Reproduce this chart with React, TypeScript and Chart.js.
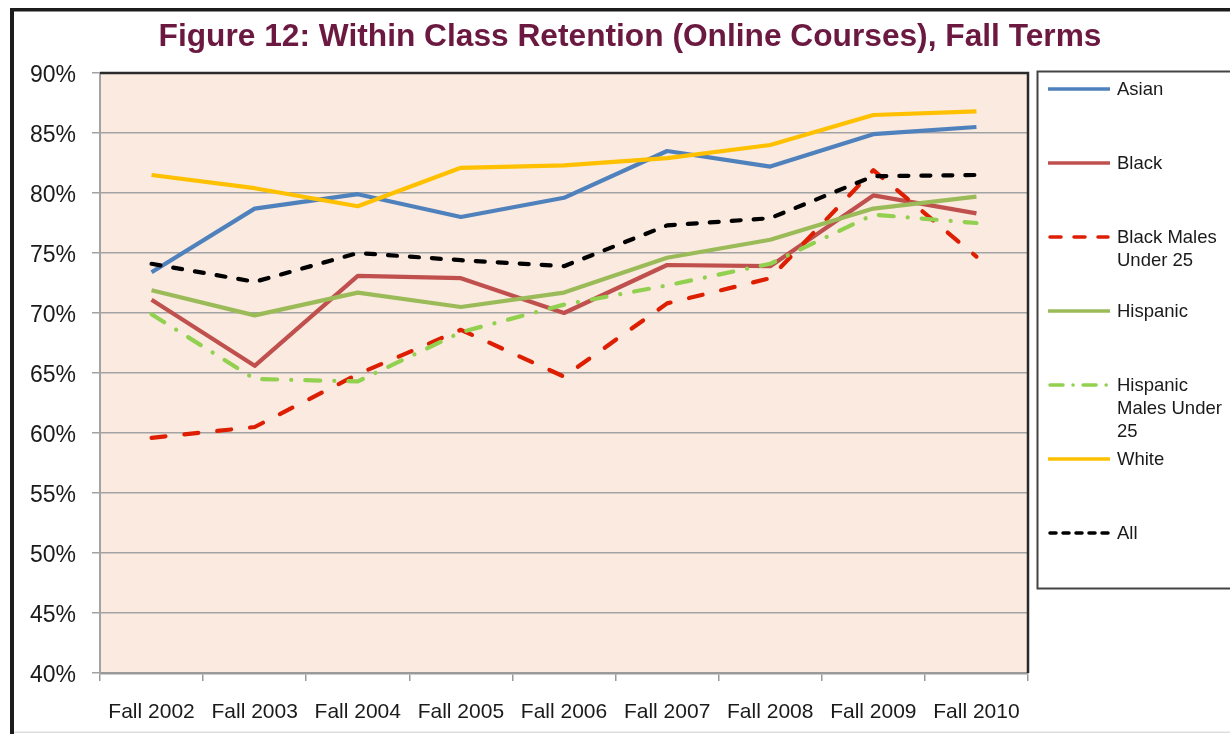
import React, { useEffect, useRef } from 'react';
import { Chart, registerables } from 'chart.js';

Chart.register(...registerables);

const titleText = 'Figure 12: Within Class Retention (Online Courses), Fall Terms';
const categories = ['Fall 2002', 'Fall 2003', 'Fall 2004', 'Fall 2005', 'Fall 2006', 'Fall 2007', 'Fall 2008', 'Fall 2009', 'Fall 2010'];
const asian = [73.4, 78.7, 79.9, 78.0, 79.6, 83.5, 82.2, 84.9, 85.5];
const black = [71.1, 65.6, 73.1, 72.9, 70.0, 74.0, 73.9, 79.8, 78.3];
const blackMalesUnder25 = [59.6, 60.5, 64.9, 68.6, 64.7, 70.8, 72.9, 81.9, 74.7];
const hispanic = [71.9, 69.8, 71.7, 70.5, 71.7, 74.6, 76.1, 78.7, 79.7];
const hispanicMalesUnder25 = [69.9, 64.5, 64.3, 68.4, 70.7, 72.3, 74.1, 78.2, 77.5];
const white = [81.5, 80.4, 78.9, 82.1, 82.3, 82.9, 84.0, 86.5, 86.8];
const all = [74.1, 72.6, 75.0, 74.4, 73.9, 77.3, 77.9, 81.4, 81.5];
const yMin = 40;
const yMax = 90;
const yStep = 5;

const seriesLabels = ['Asian', 'Black', 'Black Males Under 25', 'Hispanic', 'Hispanic Males Under 25', 'White', 'All'];
const legendLines = [['Asian'], ['Black'], ['Black Males', 'Under 25'], ['Hispanic'], ['Hispanic', 'Males Under', '25'], ['White'], ['All']];
const seriesValues = [asian, black, blackMalesUnder25, hispanic, hispanicMalesUnder25, white, all];
const seriesColors = ['#4F81BD', '#C0504D', '#DD1E00', '#9BBB59', '#92D050', '#FFC000', '#000000'];
const seriesDash: number[][] = [[], [], [14, 19], [], [15, 14, 0.1, 14], [], [9, 13]];
const legendDash: number[][] = [[], [], [11, 13], [], [13, 10, 0.1, 10], [], [6, 7]];

const FONT = '"Liberation Sans", Arial, Helvetica, sans-serif';

const decorPlugin = {
  id: 'decor',
  beforeDraw(chart: any) {
    const { ctx, chartArea: a, width, height } = chart;
    ctx.save();
    ctx.fillStyle = '#ffffff';
    ctx.fillRect(0, 0, width, height);
    // outer frame
    ctx.fillStyle = '#1c1c1c';
    ctx.fillRect(10, 8, 4, height - 8);
    ctx.fillRect(10, 8, width - 10, 3.5);
    ctx.fillStyle = '#dddddd';
    ctx.fillRect(14, 731.5, width - 14, 1.5);
    // plot background
    ctx.fillStyle = '#FBEADF';
    ctx.fillRect(a.left, a.top, a.right - a.left, a.bottom - a.top);
    ctx.restore();
  },
  afterDraw(chart: any) {
    const { ctx, chartArea: a } = chart;
    ctx.save();
    // dark top + right border of plot area
    ctx.strokeStyle = '#2a2a2a';
    ctx.lineWidth = 2.5;
    ctx.beginPath();
    ctx.moveTo(a.left, a.top);
    ctx.lineTo(a.right, a.top);
    ctx.lineTo(a.right, a.bottom);
    ctx.stroke();

    // title
    ctx.fillStyle = '#6B1940';
    ctx.font = `bold 31.7px ${FONT}`;
    ctx.textAlign = 'center';
    ctx.textBaseline = 'middle';
    ctx.fillText(titleText, 630, 37);

    // legend box
    const bx = 1037.5, by = 71.5;
    ctx.fillStyle = '#ffffff';
    ctx.fillRect(bx, by, 300, 517);
    ctx.strokeStyle = '#444444';
    ctx.lineWidth = 2;
    ctx.strokeRect(bx, by, 300, 517);

    ctx.font = `18.5px ${FONT}`;
    ctx.textAlign = 'left';
    chart.data.datasets.forEach((ds: any, i: number) => {
      const y = 90 + i * 74;
      ctx.strokeStyle = ds.borderColor;
      ctx.lineWidth = 3.5;
      ctx.lineCap = legendDash[i].length ? 'round' : 'butt';
      ctx.setLineDash(legendDash[i]);
      ctx.beginPath();
      ctx.moveTo(legendDash[i].length ? 1050 : 1048, y - 1);
      ctx.lineTo(legendDash[i].length ? 1108 : 1110, y - 1);
      ctx.stroke();
      ctx.setLineDash([]);
      ctx.fillStyle = '#1a1a1a';
      legendLines[i].forEach((t, j) => ctx.fillText(t, 1117, y + j * 23));
    });
    ctx.restore();
  },
};

export default function App() {
  const ref = useRef<HTMLCanvasElement | null>(null);
  useEffect(() => {
    if (!ref.current) return;
    Chart.defaults.font.family = FONT;
    const chart = new Chart(ref.current, {
      type: 'line',
      data: {
        labels: categories,
        datasets: seriesLabels.map((label, i) => ({
          label,
          data: seriesValues[i],
          borderColor: seriesColors[i],
          backgroundColor: seriesColors[i],
          borderWidth: 4.2,
          borderDash: seriesDash[i],
          borderCapStyle: seriesDash[i].length ? 'round' : 'butt',
          borderJoinStyle: 'round',
          pointRadius: 0,
          pointHoverRadius: 0,
          tension: 0,
          fill: false,
          order: seriesLabels.length - i,
        })),
      },
      options: {
        responsive: false,
        animation: false,
        events: [],
        layout: { padding: { top: 73, right: 202, left: 0, bottom: 0 } },
        plugins: {
          legend: { display: false },
          title: { display: false },
          tooltip: { enabled: false },
        },
        scales: {
          x: {
            type: 'category',
            offset: true,
            grid: {
              offset: true,
              drawOnChartArea: false,
              drawTicks: true,
              tickLength: 8,
              color: '#9a9a9a',
              lineWidth: 1.5,
            },
            border: { display: true, color: '#9a9a9a', width: 2.5 },
            ticks: {
              color: '#1a1a1a',
              font: { size: 21, family: FONT },
              padding: 19,
              maxRotation: 0,
              autoSkip: false,
            },
            afterFit: (s: any) => { s.height = 61; },
          },
          y: {
            min: yMin,
            max: yMax,
            grid: {
              color: '#a3a3a3',
              lineWidth: 1.5,
              tickLength: 8,
              drawTicks: true,
            },
            border: { display: true, color: '#a3a3a3', width: 2 },
            ticks: {
              stepSize: yStep,
              color: '#1a1a1a',
              font: { size: 23, family: FONT },
              padding: 16,
              labelOffset: 3,
              callback: (v: any) => `${v}%`,
            },
            afterFit: (s: any) => { s.width = 100; },
          },
        },
      },
      plugins: [decorPlugin],
    } as any);
    return () => chart.destroy();
  }, []);
  return (
    <div style={{ position: 'absolute', left: 0, top: 0, width: 1230, height: 734 }}>
      <canvas ref={ref} width={1230} height={734} style={{ display: 'block', width: 1230, height: 734 }} />
    </div>
  );
}
